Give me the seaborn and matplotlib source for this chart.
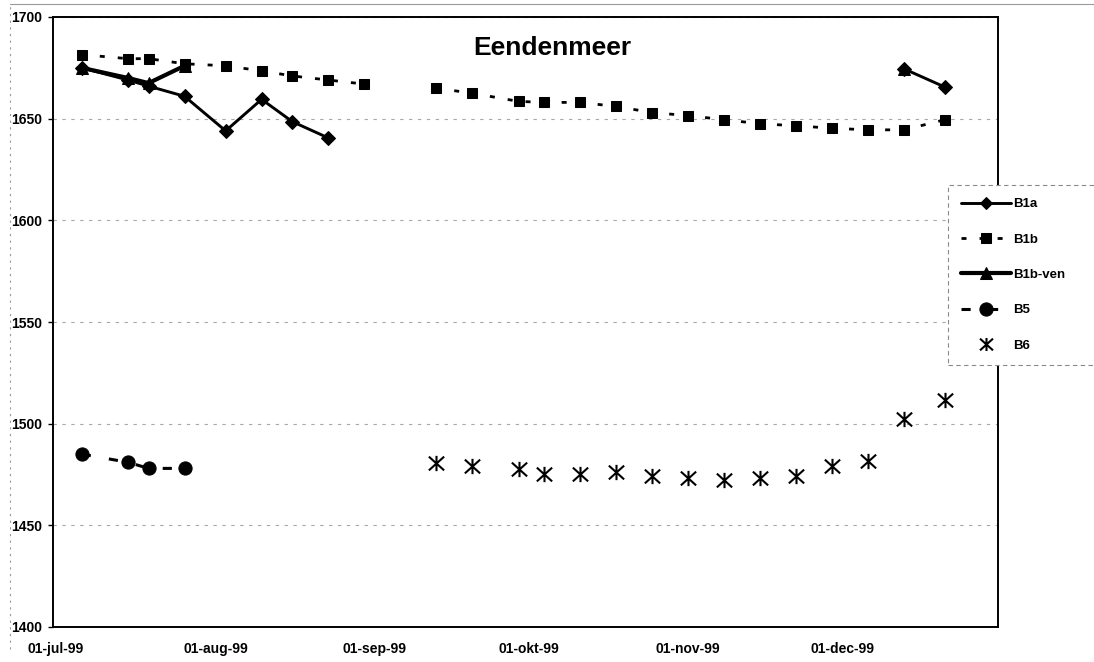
import numpy as np
import pandas as pd
import matplotlib
matplotlib.use("Agg")
import matplotlib.pyplot as plt
import matplotlib.dates as mdates
from matplotlib.path import Path
from matplotlib.lines import Line2D
import seaborn as sns

# ---------------- data ----------------
dates = ["1999-07-06", "1999-07-15", "1999-07-19", "1999-07-26", "1999-08-03",
         "1999-08-10", "1999-08-16", "1999-08-23", "1999-08-30", "1999-09-06",
         "1999-09-13", "1999-09-20", "1999-09-29", "1999-10-04", "1999-10-11",
         "1999-10-18", "1999-10-25", "1999-11-01", "1999-11-08", "1999-11-15",
         "1999-11-22", "1999-11-29", "1999-12-06", "1999-12-13", "1999-12-21"]
nan = np.nan
B1a = [1675, 1669, 1666, 1661, 1644, 1659.5, 1648.5, 1640.5,
       nan, nan, nan, nan, nan, nan, nan, nan, nan, nan, nan, nan, nan, nan, nan,
       1674.5, 1665.5]
B1b = [1681.5, 1679.5, 1679.5, 1677, 1676, 1673.5, 1671, 1669, 1667, nan,
       1665, 1662.5, 1658.5, 1658, 1658, 1656, 1653, 1651.5, 1649.5, 1647.5,
       1646.5, 1645.3, 1644.5, 1644.5, 1649.5]
B1b_ven = [1675, 1670, 1667.5, 1676,
           nan, nan, nan, nan, nan, nan, nan, nan, nan, nan, nan, nan, nan, nan,
           nan, nan, nan, nan, nan, 1674.5, nan]
B5 = [1485, 1481, 1478, 1478,
      nan, nan, nan, nan, nan, nan, nan, nan, nan, nan, nan, nan, nan, nan, nan,
      nan, nan, nan, nan, nan, nan]
B6 = [nan, nan, nan, nan, nan, nan, nan, nan, nan, nan,
      1480.5, 1479, 1477.5, 1475.2, 1475.2, 1476.2, 1474.2, 1473.2, 1472.3,
      1473.2, 1474.2, 1479, 1481.5, 1502.3, 1511.6]

series_names = ["B1a", "B1b", "B1b-ven", "B5", "B6"]
series_values = [B1a, B1b, B1b_ven, B5, B6]

xtick_dates = ["1999-07-01", "1999-08-01", "1999-09-01", "1999-10-01", "1999-11-01", "1999-12-01"]
xtick_labels = ["01-jul-99", "01-aug-99", "01-sep-99", "01-okt-99", "01-nov-99", "01-dec-99"]
yticks = [1400, 1450, 1500, 1550, 1600, 1650, 1700]
title = "Eendenmeer"

# ---------------- style ----------------
sns.set_style("white")
plt.rcParams["font.family"] = ["Liberation Sans", "DejaVu Sans"]
plt.rcParams["font.weight"] = "bold"
plt.rcParams["text.color"] = "black"
plt.rcParams["axes.labelcolor"] = "black"
plt.rcParams["xtick.color"] = "black"
plt.rcParams["ytick.color"] = "black"

# asterisk marker: vertical bar + X
ast = Path([(0, -1), (0, 1), (-1, -0.9), (1, 0.9), (-1, 0.9), (1, -0.9)],
           [Path.MOVETO, Path.LINETO, Path.MOVETO, Path.LINETO, Path.MOVETO, Path.LINETO])

styles = {
    "B1a": dict(marker="D", markersize=6.8, linewidth=2.1, linestyle="-"),
    "B1b": dict(marker="s", markersize=7.6, linewidth=2.0, linestyle=(0, (1.8, 4.7))),
    "B1b-ven": dict(marker="^", markersize=9.0, linewidth=3.0, linestyle="-"),
    "B5": dict(marker="o", markersize=9.5, linewidth=2.2, linestyle=(0, (3, 6))),
    "B6": dict(marker=ast, markersize=11, linewidth=0, linestyle="none",
               markerfacecolor="none", markeredgewidth=1.5),
}

W, H = 1094, 662
fig = plt.figure(figsize=(W / 100, H / 100), dpi=100)
ax = fig.add_axes([53 / W, 35 / H, 945 / W, 610 / H])

x = pd.to_datetime(dates)
handles = []
for name, vals in zip(series_names, series_values):
    s = pd.Series(vals, dtype=float)
    df = pd.DataFrame({"date": x, "value": s, "seg": s.isna().cumsum()}).dropna()
    n0 = len(ax.lines)
    sns.lineplot(data=df, x="date", y="value", units="seg", estimator=None,
                 sort=False, color="black", markeredgecolor="black",
                 legend=False, ax=ax, **styles[name])
    ln = ax.lines[n0]
    h = Line2D([], [], color="black", marker=ln.get_marker(),
               markersize=ln.get_markersize() * (0.85 if name in ("B1a", "B6") else 1.0),
               linewidth=ln.get_linewidth(),
               linestyle=ln.get_linestyle() if name != "B6" else "none",
               markerfacecolor=ln.get_markerfacecolor(),
               markeredgecolor="black", markeredgewidth=ln.get_markeredgewidth())
    if name in ("B1b", "B5"):
        h.set_dashes(styles[name]["linestyle"][1])
    handles.append(h)

# axes limits / ticks
start = mdates.date2num(pd.Timestamp("1999-07-01"))
ax.set_xlim(start - 0.6, start + 183.3)
ax.set_ylim(1400, 1700)
ax.set_xticks(pd.to_datetime(xtick_dates))
ax.set_xticklabels(xtick_labels, fontsize=10, fontweight="bold", color="black")
ax.set_yticks(yticks)
ax.set_yticklabels([str(v) for v in yticks], fontsize=10, fontweight="bold", color="black")
ax.tick_params(axis="x", length=0, pad=11)
ax.tick_params(axis="y", direction="out", length=3.6, width=1, pad=4.3, left=True,
               color="black")
ax.set_xlabel("")
ax.set_ylabel("")

ax.yaxis.grid(True, color="#a8a8a8", linestyle=(0, (3, 5)), linewidth=0.8)
ax.xaxis.grid(False)
ax.set_axisbelow(True)
for sp in ax.spines.values():
    sp.set_visible(True)
    sp.set_color("black")
    sp.set_linewidth(1.4)

ax.text(0.528, 0.949, title, transform=ax.transAxes, ha="center", va="center",
        fontsize=19, fontweight="bold", color="black")

leg = fig.legend(handles, series_names, loc="upper left",
                 bbox_to_anchor=(948 / W, 0.40, 150 / W, 1 - 185 / H - 0.40),
                 mode="expand", borderaxespad=0, frameon=True, fancybox=False,
                 handlelength=3.8, handletextpad=0.15, labelspacing=1.75,
                 borderpad=1.0, prop={"size": 9.5, "weight": "bold"})
for t in leg.get_texts():
    t.set_color("black")
fr = leg.get_frame()
fr.set_edgecolor("#8a8a8a")
fr.set_linewidth(0.8)
fr.set_linestyle((0, (4, 3)))
fr.set_facecolor("white")
fr.set_alpha(1)

# outer chart border remnants
fig.add_artist(Line2D([10 / W, 1], [1 - 4 / H, 1 - 4 / H], color="#9a9a9a", lw=0.8))
fig.add_artist(Line2D([10 / W, 10 / W], [0.02, 1 - 4 / H], color="#9a9a9a", lw=0.8,
                      linestyle=(0, (2, 4))))

fig.savefig("out.png", dpi=100)
